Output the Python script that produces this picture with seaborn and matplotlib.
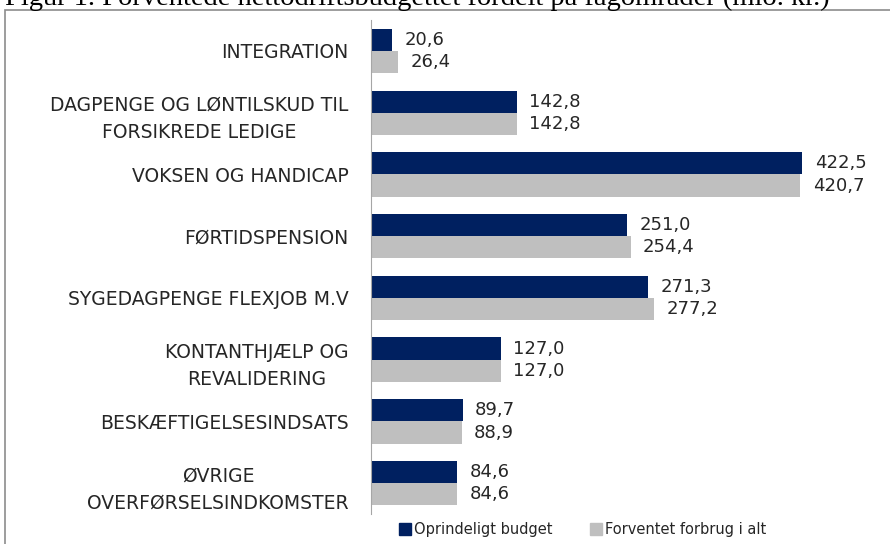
import pandas as pd
import seaborn as sns
import matplotlib.pyplot as plt
from matplotlib.patches import Rectangle

# Values from the chart (mio. kr.)
categories = [
    'INTEGRATION',
    'DAGPENGE OG LØNTILSKUD TIL\nFORSIKREDE LEDIGE',
    'VOKSEN OG HANDICAP',
    'FØRTIDSPENSION',
    'SYGEDAGPENGE FLEXJOB M.V',
    'KONTANTHJÆLP OG\nREVALIDERING',
    'BESKÆFTIGELSESINDSATS',
    'ØVRIGE\nOVERFØRSELSINDKOMSTER',
]
budget = [20.6, 142.8, 422.5, 251.0, 271.3, 127.0, 89.7, 84.6]
forbrug = [26.4, 142.8, 420.7, 254.4, 277.2, 127.0, 88.9, 84.6]
series = ['Oprindeligt budget', 'Forventet forbrug i alt']
colors = ['#002060', '#BFBFBF']

df = pd.DataFrame({
    'kategori': categories * 2,
    'vaerdi': budget + forbrug,
    'serie': [series[0]] * len(categories) + [series[1]] * len(categories),
})

sns.set_style('white')
plt.rcParams['font.family'] = ['DejaVu Sans']

fig = plt.figure(figsize=(8.9, 5.44), dpi=100)
ax = fig.add_axes([371 / 890, 0.055, 500 / 890, 0.908])

sns.barplot(data=df, y='kategori', x='vaerdi', hue='serie', orient='h',
            palette=colors, width=0.72, dodge=True, gap=0, saturation=1,
            edgecolor='none', ax=ax)

ax.set_xlim(0, 490)
ax.set_xlabel('')
ax.set_ylabel('')
ax.set_xticks([])
ax.tick_params(axis='y', length=0, pad=16, labelsize=13.5, labelcolor='#262626')
for lbl in ax.get_yticklabels():
    lbl.set_multialignment('center')
    lbl.set_linespacing(1.55)
for side in ['top', 'right', 'bottom']:
    ax.spines[side].set_visible(False)
ax.spines['left'].set_color('#A6A6A6')

# value labels with comma decimals
for cont in ax.containers:
    ax.bar_label(cont, labels=[f'{v:.1f}'.replace('.', ',') for v in cont.datavalues],
                 padding=9, fontsize=13, color='#262626')

ax.get_legend().remove()
handles = [plt.Line2D([], [], marker='s', linestyle='none', markersize=8,
                      color=c) for c in colors]
fig.legend(handles, series, loc='center', bbox_to_anchor=(0.655, 0.026), ncol=2,
           frameon=False, fontsize=10.5, handletextpad=0.2, columnspacing=2.6,
           handlelength=0.8)

# outer frame and caption (cut off at the top edge, as in the source)
fig.patches.append(Rectangle((5 / 890, -0.1), 1.0, 1.1 - 10 / 544, transform=fig.transFigure,
                             fill=False, edgecolor='#8C8C8C', linewidth=1.2))
fig.text(5 / 890, 1 - 5 / 544, 'Figur 1. Forventede nettodriftsbudgettet fordelt på fagområder (mio. kr.)',
         family='Liberation Serif', fontsize=20.5, va='baseline', ha='left', color='black')

fig.savefig('out.png', dpi=100)
